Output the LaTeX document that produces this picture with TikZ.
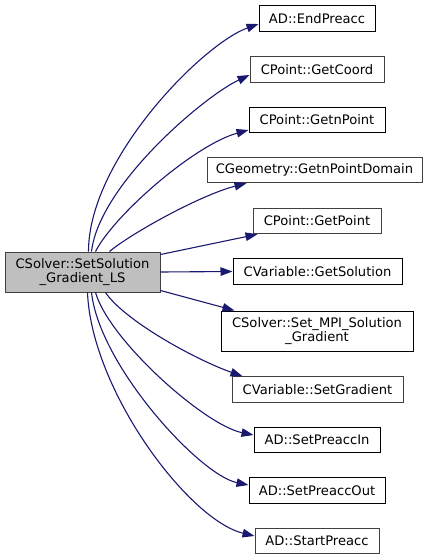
\documentclass[tikz,border=0pt]{standalone}
\usepackage{fontspec}
\setmainfont{DejaVu Sans}
\usetikzlibrary{arrows.meta,calc}
\definecolor{edgeblue}{HTML}{191970}
\definecolor{boxgray}{HTML}{404040}
\definecolor{srcfill}{HTML}{BFBFBF}
\tikzset{
  fn/.style={draw=black, line width=1pt, fill=white, inner sep=0pt, minimum height=25.5pt, align=center, font=\fontsize{13.1}{14}\selectfont},
  fng/.style={fn, draw=boxgray},
  srcbox/.style={fn, draw=boxgray, fill=srcfill, minimum width=155pt, minimum height=40pt},
  call/.style={draw=edgeblue, line width=1.1pt, -{Triangle[length=12pt,width=8.5pt]}, edgeblue},
}
\begin{document}
\begin{tikzpicture}[x=1pt,y=-1pt]
\useasboundingbox (0,0) rectangle (432,560);
\node[srcbox] (src) at (82.5,272) {CSolver::SetSolution\\\_Gradient\_LS};
\node[fn,  minimum width=116pt] (n1) at (317,18.5) {AD::EndPreacc};
\node[fng, minimum width=134pt] (n2) at (317,69.5) {CPoint::GetCoord};
\node[fn,  minimum width=136pt] (n3) at (317,120) {CPoint::GetnPoint};
\node[fng, minimum width=215pt] (n4) at (314.5,170) {CGeometry::GetnPointDomain};
\node[fng, minimum width=128pt] (n5) at (317,221) {CPoint::GetPoint};
\node[fn,  minimum width=169pt] (n6) at (317.5,271.5) {CVariable::GetSolution};
\node[fn,  minimum width=192pt, minimum height=40pt] (n7) at (317,331) {CSolver::Set\_MPI\_Solution\\\_Gradient};
\node[fng, minimum width=171pt] (n8) at (317.5,389.5) {CVariable::SetGradient};
\node[fn,  minimum width=126pt] (n9) at (317,440) {AD::SetPreaccIn};
\node[fn,  minimum width=136pt] (n10) at (317,490.5) {AD::SetPreaccOut};
\node[fng, minimum width=124pt] (n11) at (317,541) {AD::StartPreacc};

\draw[call] ($(src.north west)+(84,0)$) .. controls +(0,-92) and +(-56,20) .. ($(n1.west)+(0,5.5)$);
\draw[call] ($(src.north west)+(87,0)$) .. controls +(8,-67) and +(-45,21) .. ($(n2.west)+(0,5.5)$);
\draw[call] ($(src.north west)+(91,0)$) .. controls +(19,-37) and +(-54,15) .. ($(n3.west)+(0,10)$);
\draw[call] ($(src.north west)+(105,0)$) .. controls +(20,-17) and +(-47,12) .. ($(n4.south west)+(40,0)$);
\draw[call] ($(src.north east)+(0,3)$) -- ($(n5.south west)+(5,0)$);
\draw[call] (src.east) -- (n6.west);
\draw[call] ($(src.south east)+(0,-2)$) -- ($(n7.north west)+(14,0)$);
\draw[call] ($(src.south west)+(101,0)$) .. controls +(19,28) and +(-48,-17) .. ($(n8.north west)+(11,0)$);
\draw[call] ($(src.south west)+(91,0)$) .. controls +(14,48) and +(-49,-10) .. ($(n9.west)+(0,-5)$);
\draw[call] ($(src.south west)+(87,0)$) .. controls +(8,73) and +(-49,-10) .. ($(n10.west)+(0,-5.5)$);
\draw[call] ($(src.south west)+(83,0)$) .. controls +(4,98) and +(-66,-16) .. ($(n11.west)+(0,-5)$);
\end{tikzpicture}
\end{document}
